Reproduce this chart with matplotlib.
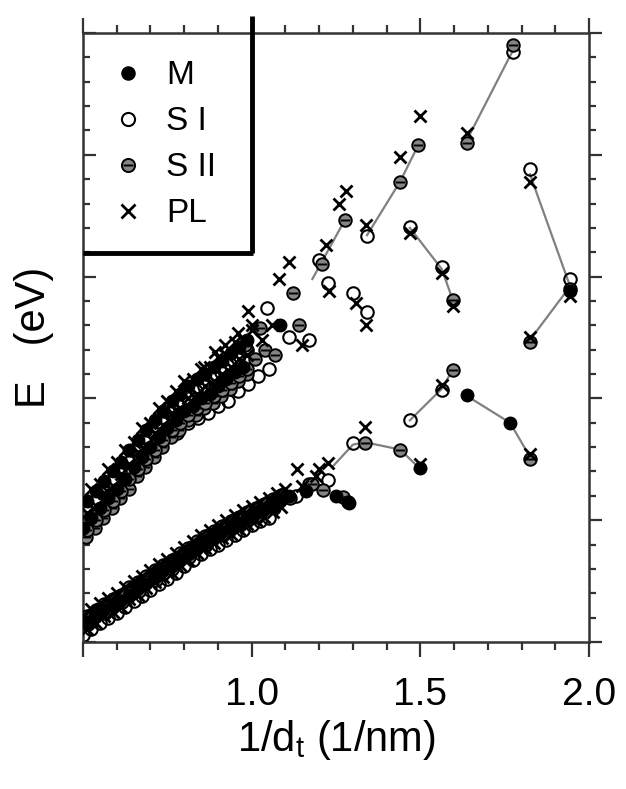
import matplotlib
matplotlib.use("Agg")
import matplotlib.pyplot as plt
from matplotlib.path import Path
from matplotlib.ticker import MultipleLocator
from matplotlib.lines import TICKRIGHT

plt.rcParams['font.family'] = ['Liberation Sans', 'DejaVu Sans']
plt.rcParams['mathtext.fontset'] = 'custom'
plt.rcParams['mathtext.rm'] = 'Liberation Sans'
plt.rcParams['mathtext.it'] = 'Liberation Sans:italic'

# ---- data: 1/d_t (1/nm) and transition energies (eV) ----
# lower family (dense part)
pl_low_x = [0.50, 0.525, 0.55, 0.575, 0.60, 0.625, 0.65, 0.675, 0.70, 0.725, 0.75, 0.775, 0.80,
            0.825, 0.85, 0.875, 0.90, 0.925, 0.95, 0.975, 1.00, 1.025, 1.05, 1.075, 1.10,
            0.5125, 0.5375, 0.5625, 0.5875, 0.6125, 0.6375, 0.6625, 0.6875, 0.7125, 0.7375,
            0.7625, 0.7875, 0.8125, 0.8375, 0.8625, 0.8875, 0.9125, 0.9375, 0.9625, 0.9875,
            1.0125, 1.0375, 1.0625, 1.0875, 1.15, 1.19]
pl_low_y = [0.61, 0.635, 0.66, 0.68, 0.70, 0.725, 0.75, 0.77, 0.795, 0.82, 0.84, 0.865, 0.89,
            0.915, 0.94, 0.96, 0.98, 1.00, 1.02, 1.04, 1.06, 1.075, 1.09, 1.11, 1.13,
            0.555, 0.58, 0.605, 0.625, 0.645, 0.675, 0.695, 0.72, 0.745, 0.765,
            0.785, 0.815, 0.835, 0.865, 0.885, 0.905, 0.925, 0.945, 0.965, 0.985,
            1.00, 1.015, 1.035, 1.055, 1.14, 1.18]
m_low_x = [0.51, 0.535, 0.56, 0.585, 0.61, 0.635, 0.66, 0.685, 0.71, 0.735, 0.76, 0.785, 0.81,
           0.835, 0.86, 0.885, 0.91, 0.935, 0.96, 0.985, 1.01, 1.035, 1.06, 1.085, 1.11, 1.16]
m_low_y = [0.58, 0.605, 0.63, 0.65, 0.67, 0.695, 0.72, 0.74, 0.765, 0.79, 0.81, 0.835, 0.86,
           0.885, 0.91, 0.93, 0.95, 0.97, 0.99, 1.01, 1.03, 1.045, 1.06, 1.08, 1.10, 1.12]
s1_low_x = [0.50, 0.525, 0.55, 0.575, 0.60, 0.625, 0.65, 0.675, 0.70, 0.725, 0.75, 0.775, 0.80,
            0.825, 0.85, 0.875, 0.90, 0.925, 0.95, 0.975, 1.00, 1.025, 1.05, 1.13]
s1_low_y = [0.53, 0.555, 0.58, 0.60, 0.62, 0.645, 0.67, 0.69, 0.715, 0.74, 0.76, 0.785, 0.81,
            0.835, 0.86, 0.88, 0.90, 0.92, 0.94, 0.96, 0.98, 0.995, 1.01, 1.10]
s2_low_x = [0.515, 0.565, 0.615, 0.665, 0.715, 0.765, 0.815, 0.865, 0.915, 0.965, 1.015, 1.065, 1.115,
            0.5125, 0.5375, 0.5625, 0.5875, 0.6125, 0.6375, 0.6625, 0.6875, 0.7125, 0.7375,
            0.7625, 0.7875, 0.8125, 0.8375, 0.8625, 0.8875, 0.9125, 0.9375, 0.9625, 0.9875,
            1.0125, 1.0375, 1.0625, 1.0875, 1.18]
s2_low_y = [0.575, 0.62, 0.665, 0.71, 0.755, 0.80, 0.85, 0.90, 0.94, 0.98, 1.015, 1.05, 1.09,
            0.605, 0.63, 0.655, 0.675, 0.695, 0.725, 0.745, 0.77, 0.795, 0.815,
            0.835, 0.865, 0.885, 0.915, 0.935, 0.955, 0.975, 0.995, 1.015, 1.035,
            1.05, 1.065, 1.085, 1.105, 1.15]

# upper family (dense part)
pl_up_x = [0.50, 0.525, 0.55, 0.575, 0.60, 0.625, 0.65, 0.675, 0.70, 0.725, 0.75, 0.775, 0.80,
           0.825, 0.85, 0.875, 0.90, 0.925, 0.95, 0.975, 1.00,
           0.5125, 0.5375, 0.5625, 0.5875, 0.6125, 0.6375, 0.6625, 0.6875, 0.7125, 0.7375,
           0.7625, 0.7875, 0.8125, 0.8375, 0.8625, 0.8875, 0.9125, 0.9375, 0.9625, 0.9875,
           0.86, 0.89, 0.92, 0.96, 1.00, 1.03]
pl_up_y = [1.08, 1.13, 1.15, 1.21, 1.24, 1.29, 1.32, 1.38, 1.40, 1.46, 1.49, 1.53, 1.57,
           1.58, 1.62, 1.63, 1.67, 1.68, 1.73, 1.74, 1.78,
           1.03, 1.06, 1.11, 1.14, 1.19, 1.23, 1.28, 1.31, 1.36, 1.39,
           1.44, 1.46, 1.50, 1.52, 1.55, 1.57, 1.60, 1.63, 1.66, 1.68,
           1.63, 1.69, 1.72, 1.77, 1.80, 1.74]
s1_up_x = [0.51, 0.535, 0.56, 0.585, 0.61, 0.635, 0.66, 0.685, 0.71, 0.735, 0.76, 0.785, 0.81,
           0.835, 0.86, 0.885, 0.91, 0.935, 0.96, 0.985,
           0.78, 0.81, 0.84, 0.87, 0.90, 0.93, 0.96, 0.99, 1.02, 1.05]
s1_up_y = [1.04, 1.08, 1.12, 1.16, 1.20, 1.24, 1.29, 1.32, 1.36, 1.40, 1.44, 1.47, 1.50,
           1.53, 1.55, 1.59, 1.61, 1.64, 1.66, 1.70,
           1.36, 1.40, 1.42, 1.44, 1.47, 1.49, 1.53, 1.56, 1.59, 1.62]
m_up_x = [0.50, 0.525, 0.55, 0.575, 0.60, 0.625, 0.65, 0.675, 0.70, 0.725, 0.75, 0.775, 0.80,
          0.825, 0.85, 0.875, 0.90, 0.925, 0.95, 0.975,
          0.5125, 0.5375, 0.5625, 0.5875, 0.6125, 0.6375, 0.6625, 0.6875, 0.7125, 0.7375,
          0.7625, 0.7875, 0.8125, 0.8375, 0.8625, 0.8875, 0.9125, 0.9375, 0.9625, 0.9875]
m_up_y = [0.97, 1.01, 1.05, 1.09, 1.13, 1.17, 1.22, 1.26, 1.30, 1.34, 1.38, 1.41, 1.45,
          1.47, 1.50, 1.52, 1.55, 1.58, 1.61, 1.63,
          1.08, 1.12, 1.16, 1.20, 1.24, 1.29, 1.33, 1.37, 1.41, 1.45,
          1.49, 1.52, 1.55, 1.58, 1.60, 1.63, 1.655, 1.685, 1.71, 1.74]
s2_up_x = [0.51, 0.535, 0.56, 0.585, 0.61, 0.635, 0.66, 0.685, 0.71, 0.735, 0.76, 0.785, 0.81,
           0.835, 0.86, 0.885, 0.91, 0.935, 0.96, 0.985,
           0.5125, 0.5375, 0.5625, 0.5875, 0.6125, 0.6375, 0.6625, 0.6875, 0.7125, 0.7375,
           0.7625, 0.7875, 0.8125, 0.8375, 0.8625, 0.8875, 0.9125, 0.9375, 0.9625, 0.9875,
           1.01, 1.04, 1.07, 0.98]
s2_up_y = [0.93, 0.97, 1.01, 1.05, 1.09, 1.13, 1.18, 1.22, 1.26, 1.30, 1.34, 1.37, 1.41,
           1.43, 1.46, 1.48, 1.51, 1.54, 1.57, 1.60,
           0.96, 1.00, 1.04, 1.08, 1.12, 1.17, 1.21, 1.25, 1.29, 1.33,
           1.37, 1.40, 1.43, 1.46, 1.48, 1.51, 1.535, 1.565, 1.59, 1.62,
           1.66, 1.70, 1.68, 1.72]

# isolated points at large 1/d_t
pl_iso_x = [0.99, 1.08, 1.11, 1.06, 1.22, 1.28, 1.26, 1.34, 1.23, 1.31, 1.34, 1.44, 1.50, 1.638,
            1.469, 1.564, 1.597, 1.825, 1.944, 1.825, 1.15,
            1.336, 1.226, 1.50, 1.564, 1.825, 1.134, 1.20]
pl_iso_y = [1.86, 1.99, 2.06, 1.80, 2.13, 2.35, 2.30, 2.21, 1.94, 1.89, 1.80, 2.49, 2.66, 2.59,
            2.18, 2.015, 1.88, 2.39, 1.92, 1.75, 1.72,
            1.383, 1.235, 1.23, 1.555, 1.272, 1.21, 1.21]
s1_iso_x = [1.045, 1.20, 1.11, 1.17, 1.226, 1.30, 1.342, 1.342, 1.469, 1.564, 1.825, 1.944, 1.775,
            1.30, 1.226, 1.469, 1.564, 1.17]
s1_iso_y = [1.87, 2.07, 1.75, 1.74, 1.974, 1.933, 1.855, 2.165, 2.204, 2.04, 2.44, 1.99, 2.92,
            1.317, 1.165, 1.411, 1.534, 1.15]
s2_iso_x = [1.025, 1.122, 1.14, 1.208, 1.276, 1.44, 1.494, 1.638, 1.775, 1.597, 1.944, 1.825,
            1.336, 1.44, 1.597, 1.825, 1.21, 1.27, 1.285]
s2_iso_y = [1.79, 1.933, 1.80, 2.05, 2.232, 2.39, 2.54, 2.55, 2.95, 1.904, 1.95, 1.73,
            1.317, 1.288, 1.617, 1.25, 1.124, 1.095, 1.075]
m_iso_x = [1.944, 1.085, 1.50, 1.638, 1.766, 1.25, 1.29]
m_iso_y = [1.94, 1.80, 1.214, 1.514, 1.40, 1.10, 1.07]

# guide lines through related points
guide_x = [[1.342, 1.44, 1.494], [1.18, 1.276], [1.638, 1.775], [1.469, 1.564, 1.597],
           [1.825, 1.944, 1.825], [1.469, 1.564, 1.597], [1.638, 1.766, 1.825],
           [1.24, 1.30, 1.336, 1.44, 1.50]]
guide_y = [[2.17, 2.39, 2.54], [1.99, 2.232], [2.56, 2.93], [2.20, 2.03, 1.90],
           [2.42, 1.96, 1.74], [1.41, 1.54, 1.62], [1.51, 1.40, 1.26],
           [1.22, 1.31, 1.32, 1.29, 1.21]]

labels = ["M", "S I", "S II", "PL"]

# ---- figure ----
fig = plt.figure(figsize=(6.26, 7.89), dpi=100)
ax = fig.add_axes([0.1326, 0.1863, 0.8083, 0.7719])

for gx, gy in zip(guide_x, guide_y):
    ax.plot(gx, gy, color="#808080", lw=1.6, zorder=1)

circle_bar = Path.make_compound_path(
    Path.unit_circle(),
    Path([(-0.75, 0.0), (0.75, 0.0)], [Path.MOVETO, Path.LINETO]))

ms = 9
h_s1, = ax.plot(s1_low_x + s1_up_x + s1_iso_x, s1_low_y + s1_up_y + s1_iso_y, ls="none",
                marker="o", ms=ms, mfc="none", mec="black", mew=1.5, zorder=2)
h_s2, = ax.plot(s2_low_x + s2_up_x + s2_iso_x, s2_low_y + s2_up_y + s2_iso_y, ls="none",
                marker=circle_bar, ms=ms, mfc="#858585", mec="black", mew=1.4, zorder=3)
h_m, = ax.plot(m_low_x + m_up_x + m_iso_x, m_low_y + m_up_y + m_iso_y, ls="none",
               marker="o", ms=ms, mfc="black", mec="black", mew=1.0, zorder=4)
h_pl, = ax.plot(pl_low_x + pl_up_x + pl_iso_x, pl_low_y + pl_up_y + pl_iso_y, ls="none",
                marker="x", ms=ms, mec="black", mew=2.0, zorder=5)

ax.set_xlim(0.5, 2.0)
ax.set_ylim(0.5, 3.0)

ax.xaxis.set_minor_locator(MultipleLocator(0.1))
ax.yaxis.set_major_locator(MultipleLocator(0.5))
ax.yaxis.set_minor_locator(MultipleLocator(0.1))
ax.set_xticks([0.5, 1.0, 1.5, 2.0])
ax.set_xticklabels(["", "1.0", "1.5", "2.0"])

for s in ax.spines.values():
    s.set_linewidth(1.8)
    s.set_color("#333333")

ax.tick_params(axis="x", which="both", direction="out", top=True, bottom=True,
               color="#333333", width=1.6, labelsize=28, pad=14)
ax.tick_params(axis="x", which="major", length=11)
ax.tick_params(axis="x", which="minor", length=6)
ax.tick_params(axis="y", which="both", left=True, right=True, labelleft=False,
               color="#333333", width=1.6)
ax.tick_params(axis="y", which="major", length=9)
ax.tick_params(axis="y", which="minor", length=5)
# left ticks point in, right ticks point out
for t in ax.yaxis.get_major_ticks() + ax.yaxis.get_minor_ticks():
    t.tick1line.set_marker(TICKRIGHT)
    t.tick2line.set_marker(TICKRIGHT)

ax.set_xlabel("1/d$_\\mathrm{t}$ (1/nm)", fontsize=30, labelpad=4)
ax.set_ylabel("E   (eV)", fontsize=30)
ax.yaxis.set_label_coords(-0.058, 0.5)

# legend panel with heavy right/bottom border
leg = ax.legend([h_m, h_s1, h_s2, h_pl], labels, loc="upper left",
                bbox_to_anchor=(0.029, 0.977), frameon=False, fontsize=24,
                handlelength=1.0, handletextpad=0.65, labelspacing=0.45,
                borderaxespad=0.0, markerscale=1.05)
ax.plot([1.0, 1.0], [2.097, 3.07], color="black", lw=3.5, clip_on=False, zorder=6,
        solid_capstyle="butt")
ax.plot([0.5, 1.005], [2.097, 2.097], color="black", lw=3.5, zorder=6,
        solid_capstyle="butt")

fig.savefig("out.png", dpi=100)
